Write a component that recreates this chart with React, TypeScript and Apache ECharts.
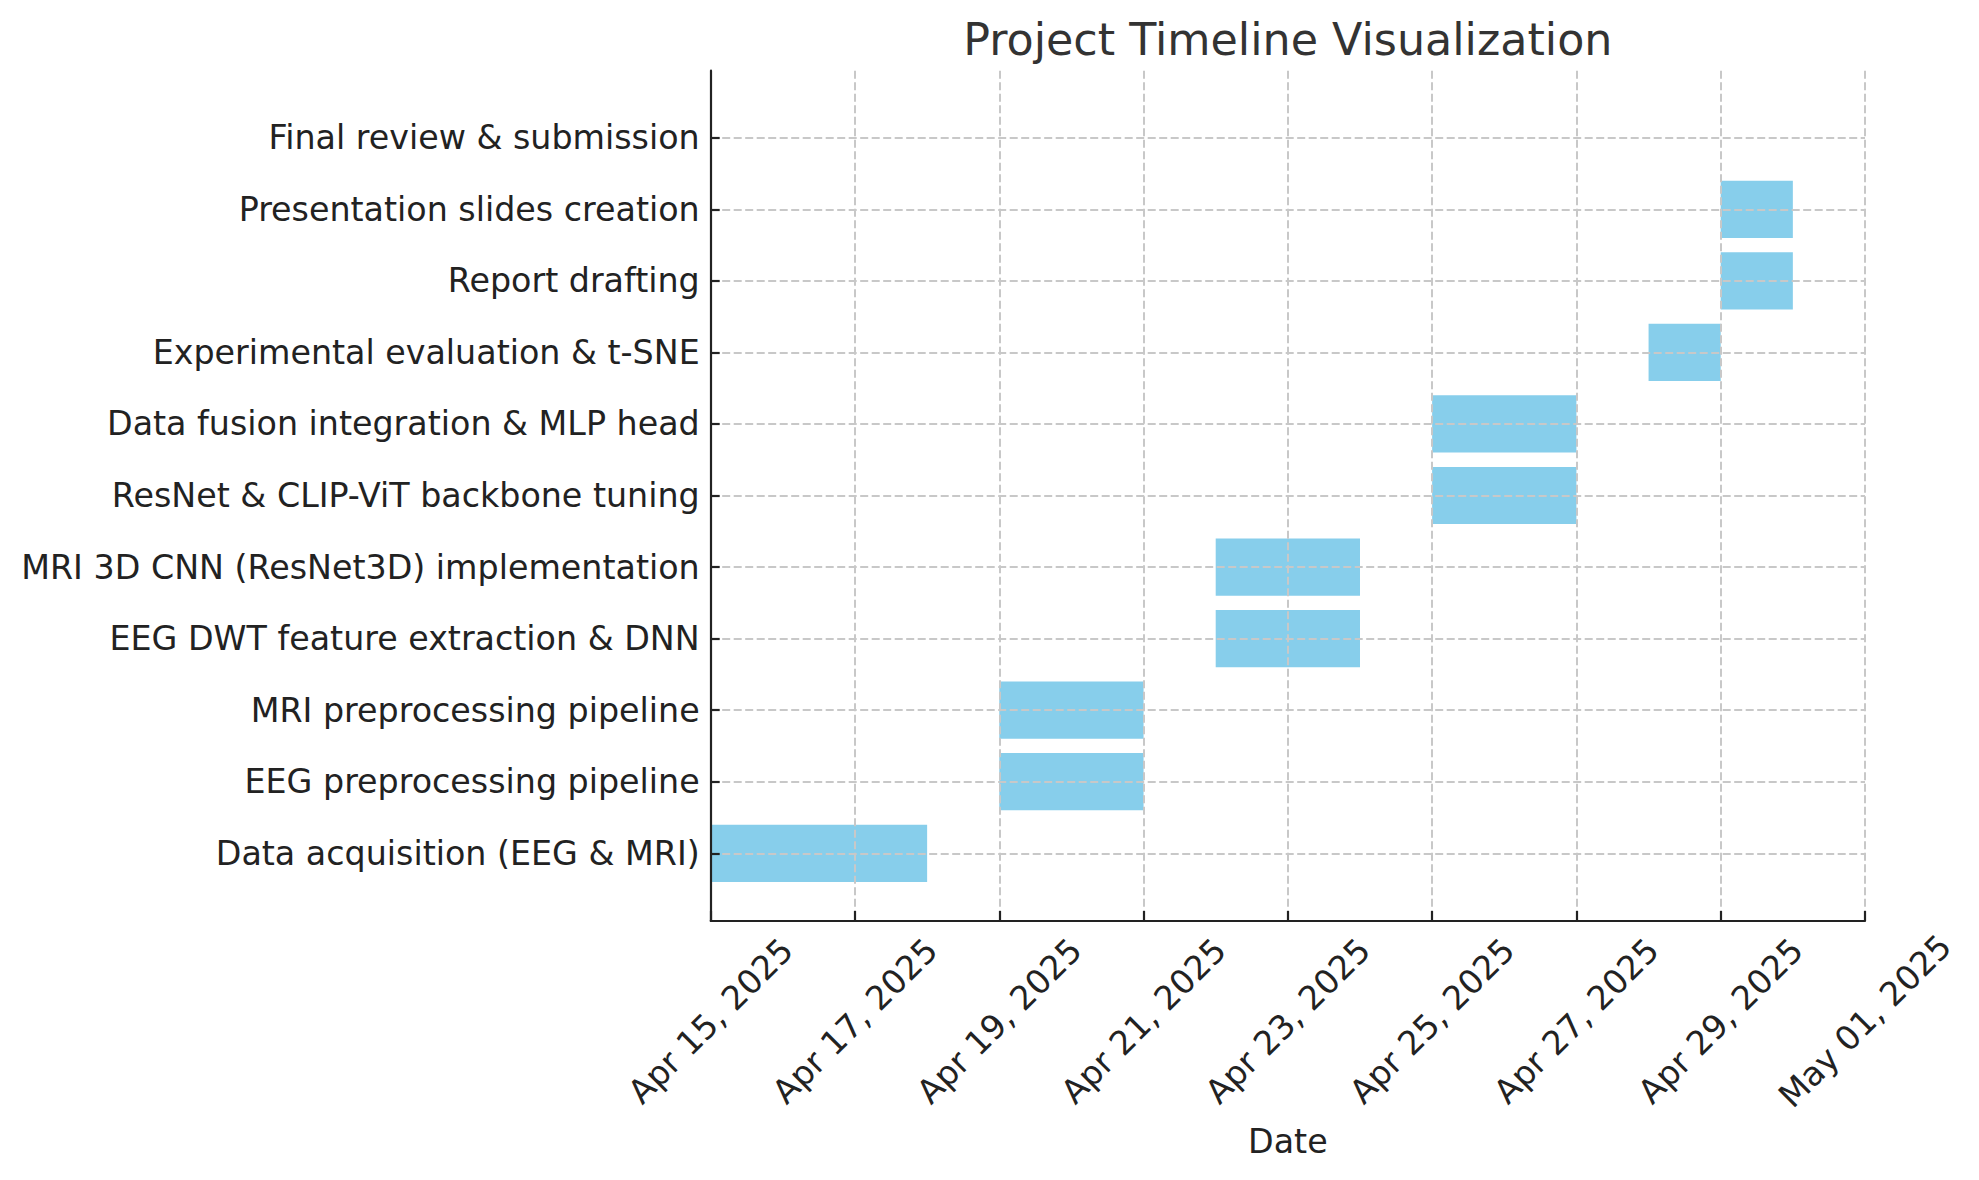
import React, { useEffect, useRef } from 'react';
import * as echarts from 'echarts';

// ---- Data (bottom row first) ----
const tasks = [
  'Data acquisition (EEG & MRI)',
  'EEG preprocessing pipeline',
  'MRI preprocessing pipeline',
  'EEG DWT feature extraction & DNN',
  'MRI 3D CNN (ResNet3D) implementation',
  'ResNet & CLIP-ViT backbone tuning',
  'Data fusion integration & MLP head',
  'Experimental evaluation & t-SNE',
  'Report drafting',
  'Presentation slides creation',
  'Final review & submission',
];
const startDates = [
  '2025-04-15', '2025-04-19', '2025-04-19', '2025-04-22', '2025-04-22',
  '2025-04-25', '2025-04-25', '2025-04-28', '2025-04-29', '2025-04-29', '2025-04-30',
];
const endDates = [
  '2025-04-18', '2025-04-21', '2025-04-21', '2025-04-24', '2025-04-24',
  '2025-04-27', '2025-04-27', '2025-04-29', '2025-04-30', '2025-04-30', '2025-04-30',
];
const axisStart = '2025-04-15';
const axisEnd = '2025-05-01';
const tickStepDays = 2;
const MONTHS = ['Jan', 'Feb', 'Mar', 'Apr', 'May', 'Jun', 'Jul', 'Aug', 'Sep', 'Oct', 'Nov', 'Dec'];

const DAY = 86400000;
const toMs = (s: string) => {
  const [y, m, d] = s.split('-').map(Number);
  return Date.UTC(y, m - 1, d);
};
const dayOffset = (s: string) => Math.round((toMs(s) - toMs(axisStart)) / DAY);
const fmtDate = (off: number) => {
  const dt = new Date(toMs(axisStart) + off * DAY);
  return `${MONTHS[dt.getUTCMonth()]} ${String(dt.getUTCDate()).padStart(2, '0')}, ${dt.getUTCFullYear()}`;
};

// ---- Layout ----
const W = 1979;
const H = 1180;
const plotLeft = 710.7;
const plotRight = 1865;
const plotTop = 70.7;
const plotBottom = 921;
const catTop = 137.7;
const catBottom = 853.3;
const FONT = 'DejaVu Sans';
const INK = '#222222';
const spine = { color: INK, width: 2.2 };
const gridLine = { type: [8, 3.5] as any, color: '#c8c8c8', width: 2 };

export default function App() {
  const ref = useRef<HTMLDivElement>(null);

  useEffect(() => {
    if (!ref.current) return;
    const chart = echarts.init(ref.current, undefined, { renderer: 'svg' });
    const xMax = dayOffset(axisEnd);
    const seriesData = tasks.map((_, i) => [dayOffset(startDates[i]), dayOffset(endDates[i]), i]);

    chart.setOption({
      animation: false,
      backgroundColor: '#ffffff',
      grid: [
        {
          left: plotLeft,
          top: plotTop,
          width: plotRight - plotLeft,
          height: plotBottom - plotTop,
          containLabel: false,
          outerBoundsMode: 'none',
        },
        {
          left: plotLeft,
          top: catTop,
          width: plotRight - plotLeft,
          height: catBottom - catTop,
          containLabel: false,
          outerBoundsMode: 'none',
        },
      ],
      xAxis: [
        {
          type: 'value',
          gridIndex: 0,
          min: 0,
          max: xMax,
          interval: tickStepDays,
          z: 3,
          axisLine: { show: true, lineStyle: spine },
          axisTick: { show: true, inside: true, length: 10, lineStyle: spine },
          axisLabel: {
            show: true,
            rotate: 45,
            align: 'center',
            verticalAlign: 'middle',
            margin: 100,
            fontSize: 33.3,
            color: INK,
            fontFamily: FONT,
            showMinLabel: true,
            showMaxLabel: true,
            hideOverlap: false,
            formatter: (v: number) => fmtDate(v),
          },
          splitLine: { show: true, lineStyle: gridLine },
        },
        {
          type: 'value',
          gridIndex: 1,
          min: 0,
          max: xMax,
          show: false,
        },
      ],
      yAxis: [
        {
          type: 'value',
          gridIndex: 0,
          min: 0,
          max: 1,
          z: 3,
          axisLine: { show: true, lineStyle: spine },
          axisTick: { show: false },
          axisLabel: { show: false },
          splitLine: { show: false },
        },
        {
          type: 'category',
          gridIndex: 1,
          data: tasks,
          boundaryGap: false,
          z: 3,
          axisLine: { show: false },
          axisTick: { show: true, inside: true, length: 9, lineStyle: spine },
          axisLabel: {
            show: true,
            interval: 0,
            margin: 11,
            fontSize: 33.3,
            color: INK,
            fontFamily: FONT,
          },
          splitLine: { show: true, interval: 0, lineStyle: gridLine },
        },
      ],
      series: [
        {
          type: 'custom',
          xAxisIndex: 1,
          yAxisIndex: 1,
          z: 1,
          data: seriesData,
          encode: { x: [0, 1], y: 2 },
          renderItem: (params: any, api: any) => {
            const s = api.value(0);
            const e = api.value(1);
            const c = api.value(2);
            const p0 = api.coord([s, c]);
            const p1 = api.coord([e, c]);
            const h = api.size([0, 1])[1] * 0.8;
            return {
              type: 'rect',
              shape: { x: p0[0], y: p0[1] - h / 2, width: p1[0] - p0[0], height: h },
              style: { fill: '#87CEEB' },
            };
          },
        },
      ],
      graphic: [
        {
          type: 'text',
          x: (plotLeft + plotRight) / 2,
          y: 39,
          style: {
            text: 'Project Timeline Visualization',
            fontSize: 44.4,
            fontFamily: FONT,
            fill: '#333333',
            align: 'center',
            verticalAlign: 'middle',
          },
        },
        {
          type: 'text',
          x: (plotLeft + plotRight) / 2,
          y: 1141.5,
          style: {
            text: 'Date',
            fontSize: 33.3,
            fontFamily: FONT,
            fill: INK,
            align: 'center',
            verticalAlign: 'middle',
          },
        },
      ],
    });

    return () => chart.dispose();
  }, []);

  return (
    <div
      ref={ref}
      style={{ position: 'fixed', left: 0, top: 0, width: W, height: H, background: '#fff' }}
    />
  );
}
